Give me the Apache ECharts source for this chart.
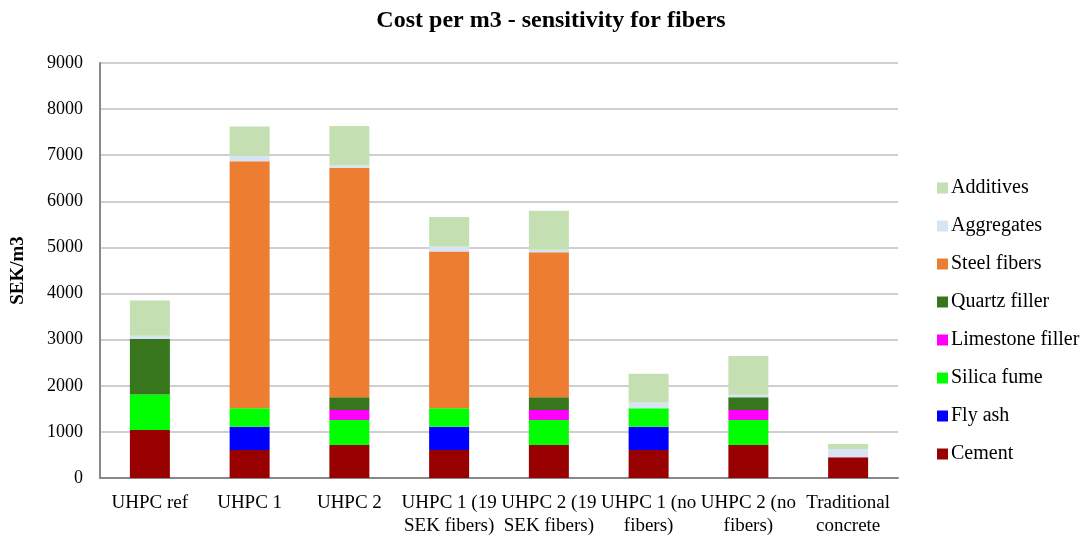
<!DOCTYPE html>
<html><head><meta charset="utf-8">
<script src="https://cdn.jsdelivr.net/npm/echarts@6/dist/echarts.min.js"></script>
<style>html,body{margin:0;padding:0;background:#fff}#c{width:1092px;height:540px}</style>
</head><body><div id="c"></div>
<script>
const categories = ["UHPC ref","UHPC 1","UHPC 2","UHPC 1 (19\nSEK fibers)","UHPC 2 (19\nSEK fibers)","UHPC 1 (no\nfibers)","UHPC 2 (no\nfibers)","Traditional\nconcrete"];
const cement      = [1040, 607, 716, 607, 716, 607, 716, 448];
const flyAsh      = [0, 506, 0, 506, 0, 506, 0, 0];
const silicaFume  = [770, 400, 540, 400, 540, 400, 540, 0];
const limestone   = [0, 0, 218, 0, 218, 0, 218, 0];
const quartz      = [1205, 0, 275, 0, 275, 0, 275, 0];
const steelFibers = [0, 5355, 4975, 3400, 3145, 0, 0, 0];
const aggregates  = [72, 122, 55, 110, 57, 122, 57, 180];
const additives   = [760, 635, 853, 635, 846, 625, 838, 110];
const yTicks = {min: 0, max: 9000, interval: 1000};

const seriesDefs = [
  ["Cement", cement, "#990000"],
  ["Fly ash", flyAsh, "#0000ff"],
  ["Silica fume", silicaFume, "#00ff00"],
  ["Limestone filler", limestone, "#ff00ff"],
  ["Quartz filler", quartz, "#38761d"],
  ["Steel fibers", steelFibers, "#ed7d31"],
  ["Aggregates", aggregates, "#d6e4f3"],
  ["Additives", additives, "#c4dfb1"]
];
const font = "Liberation Serif";
const chart = echarts.init(document.getElementById('c'));
chart.setOption({
  animation: false,
  title: {text: "Cost per m3 - sensitivity for fibers", left: 546, textAlign: 'center', top: 4,
    textStyle: {fontFamily: font, fontWeight: 'bold', fontSize: 24, color: '#000'}},
  grid: {left: 100, right: 194, top: 63, bottom: 62},
  legend: {
    orient: 'vertical', left: 932, top: 173, itemGap: 18, itemWidth: 11, itemHeight: 11, itemStyle: {borderWidth: 0},
    data: seriesDefs.map(s => s[0]).reverse(),
    textStyle: {fontFamily: font, fontSize: 20, color: '#000', padding: [0, 0, 0, -2]}, icon: 'rect'
  },
  xAxis: {
    type: 'category', data: categories,
    axisLine: {lineStyle: {color: '#888888', width: 2}},
    axisTick: {show: false},
    axisLabel: {fontFamily: font, fontSize: 19, color: '#000', interval: 0, margin: 14, lineHeight: 23}
  },
  yAxis: {
    type: 'value', min: yTicks.min, max: yTicks.max, interval: yTicks.interval,
    name: 'SEK/m3', nameLocation: 'middle', nameGap: 72, nameRotate: 90,
    nameTextStyle: {fontFamily: font, fontWeight: 'bold', fontSize: 19, color: '#000'},
    axisLine: {show: true, lineStyle: {color: '#888888', width: 2}},
    axisTick: {show: false},
    axisLabel: {fontFamily: font, fontSize: 18, color: '#000', margin: 17, formatter: v => String(v)},
    splitLine: {lineStyle: {color: '#bfbfbf', width: 1.5}}
  },
  series: seriesDefs.map(([name, data, color]) => ({
    name, type: 'bar', stack: 'total', data, barWidth: 40,
    itemStyle: {color}
  }))
});
</script></body></html>
